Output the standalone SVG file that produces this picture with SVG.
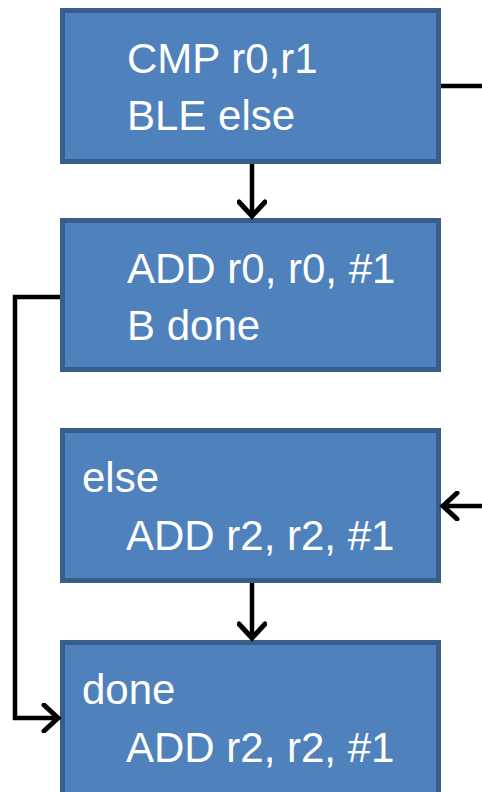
<svg xmlns="http://www.w3.org/2000/svg" width="482" height="792" viewBox="0 0 482 792">
<defs>
<style>
.box{fill:#4f81bd;stroke:#385d8a;stroke-width:5}
.t{font-family:"Liberation Sans",Arial,sans-serif;font-size:42px;fill:#ffffff}
.c{fill:none;stroke:#000;stroke-width:4.5;stroke-linejoin:miter}
</style>
<marker id="ah" markerUnits="userSpaceOnUse" markerWidth="30" markerHeight="30" viewBox="-20 -15 24 30" refX="0" refY="0" orient="auto">
<path d="M-14,-13 L0,0 L-14,13" fill="none" stroke="#000" stroke-width="5" stroke-linecap="round" stroke-linejoin="miter"/>
</marker>
</defs>
<rect width="482" height="792" fill="#ffffff"/>
<g id="n1">
<rect class="box" x="62.5" y="10.5" width="376" height="151"/>
<text class="t" x="127" y="73">CMP r0,r1</text>
<text class="t" x="127" y="130">BLE else</text>
</g>
<g id="n2">
<rect class="box" x="62.5" y="220.5" width="376" height="149"/>
<text class="t" x="127" y="283">ADD r0, r0, #1</text>
<text class="t" x="127" y="340">B done</text>
</g>
<g id="n3">
<rect class="box" x="62.5" y="430.5" width="376" height="150"/>
<text class="t" x="82" y="492">else</text>
<text class="t" x="126" y="550">ADD r2, r2, #1</text>
</g>
<g id="n4">
<rect class="box" x="62.5" y="642.5" width="376" height="152"/>
<text class="t" x="82" y="704">done</text>
<text class="t" x="126" y="762">ADD r2, r2, #1</text>
</g>
<g id="connectors">
<path class="c" d="M441,86 H482"/>
<path class="c" d="M252,164 V216" marker-end="url(#ah)"/>
<path class="c" d="M60,297 H15 V718 H58" marker-end="url(#ah)"/>
<path class="c" d="M482,506 H443" marker-end="url(#ah)"/>
<path class="c" d="M252,583 V638" marker-end="url(#ah)"/>
</g>
</svg>
